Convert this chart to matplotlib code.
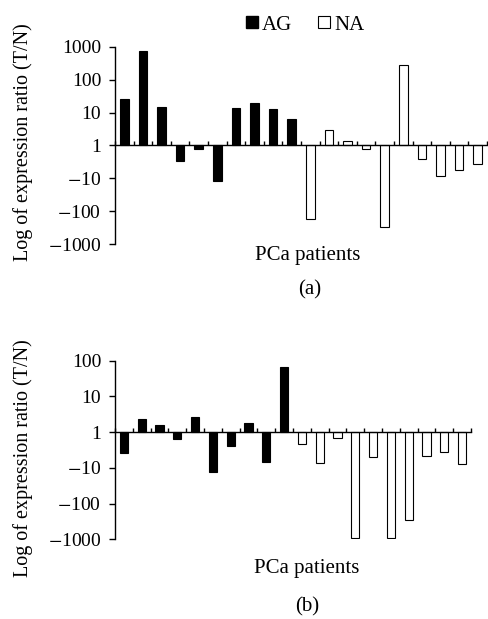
import numpy as np
import matplotlib
matplotlib.use('Agg')
import matplotlib.pyplot as plt
from matplotlib.lines import Line2D

plt.rcParams['font.family'] = ['Liberation Serif', 'DejaVu Serif']
plt.rcParams['mathtext.fontset'] = 'stix'

# expression ratios T/N (negative = down-regulated, shown as -N/T)
ag_a = [26, 740, 15, -3, -1.3, -12, 14, 20, 13, 6.3]
na_a = [-170, 2.9, 1.35, -1.3, -300, 290, -2.6, -8.7, -5.5, -3.7]
ag_b = [-3.8, 2.3, 1.6, -1.6, 2.7, -13, -2.4, 1.8, -7, 65]
na_b = [-2.2, -7.3, -1.5, -900, -5, -920, -280, -4.6, -3.5, -8]

ticks_a = ['$-$1000', '$-$100', '$-$10', '1', '10', '100', '1000']
ticks_b = ['$-$1000', '$-$100', '$-$10', '1', '10', '100']


def to_log(v):
    v = np.asarray(v, dtype=float)
    return np.sign(v) * np.log10(np.abs(v))


def panel(ax, ag, na, labels, ymin):
    ag = to_log(ag)
    na = to_log(na)
    n = len(ag) + len(na)
    x = np.arange(n)
    ax.bar(x[:len(ag)], ag, width=0.46, color='black', edgecolor='black', linewidth=0.8)
    ax.bar(x[len(ag):], na, width=0.46, color='white', edgecolor='black', linewidth=0.8)
    ymax = ymin + len(labels) - 1
    ax.set_ylim(ymin, ymax)
    ax.set_xlim(-0.5, n - 0.5)
    ax.set_yticks(np.arange(ymin, ymax + 1))
    ax.set_yticklabels(labels, fontsize=14)
    ax.set_xticks(np.arange(-0.5, n, 1))
    ax.set_xticklabels([])
    ax.tick_params(axis='x', direction='in', length=3, width=1)
    ax.tick_params(axis='y', direction='out', length=4, width=1, pad=6)
    for s in ['top', 'right']:
        ax.spines[s].set_visible(False)
    ax.spines['bottom'].set_position(('data', 0))
    ax.spines['bottom'].set_zorder(3)
    ax.spines['left'].set_linewidth(1)
    ax.spines['bottom'].set_linewidth(1)


fig = plt.figure(figsize=(4.88, 6.19), dpi=100)
ax1 = fig.add_axes([0.2357, 0.6058, 0.7623, 0.3183])
ax2 = fig.add_axes([0.2357, 0.1288, 0.7295, 0.2885])

panel(ax1, ag_a, na_a, ticks_a, -3)
panel(ax2, ag_b, na_b, ticks_b, -3)

ylab = 'Log of expression ratio (T/N)'
fig.text(23 / 488, 1 - 142 / 619, ylab, rotation=90, ha='center', va='center', fontsize=14.5)
fig.text(23 / 488, 1 - 458 / 619, ylab, rotation=90, ha='center', va='center', fontsize=14.5)

fig.text(308 / 488, 1 - 255 / 619, 'PCa patients', ha='center', va='center', fontsize=15)
fig.text(310 / 488, 1 - 290 / 619, '(a)', ha='center', va='center', fontsize=15)
fig.text(307 / 488, 1 - 568 / 619, 'PCa patients', ha='center', va='center', fontsize=15)
fig.text(307 / 488, 1 - 607 / 619, '(b)', ha='center', va='center', fontsize=15)

handles = [Line2D([], [], marker='s', linestyle='none', markersize=9,
                  markerfacecolor='black', markeredgecolor='black', label='AG'),
           Line2D([], [], marker='s', linestyle='none', markersize=9,
                  markerfacecolor='white', markeredgecolor='black', markeredgewidth=0.8, label='NA')]
fig.legend(handles=handles, loc='center', bbox_to_anchor=(305 / 488, 1 - 25 / 619),
           ncol=2, frameon=False, fontsize=15, handlelength=0.6, handletextpad=0.2,
           columnspacing=1.2)

fig.savefig('out.png', dpi=100)
